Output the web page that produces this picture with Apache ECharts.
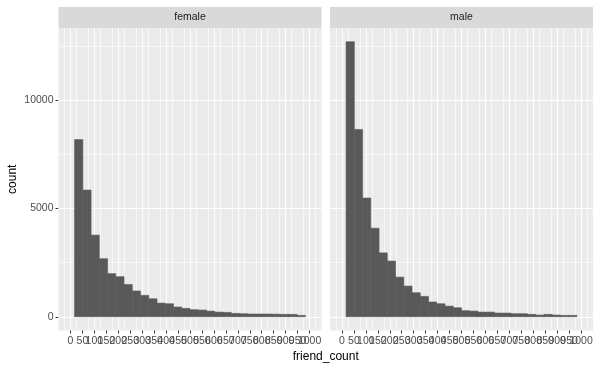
<!DOCTYPE html>
<html><head><meta charset="utf-8">
<script src="https://cdn.jsdelivr.net/npm/echarts@6/dist/echarts.min.js"></script>
<style>html,body{margin:0;padding:0;background:#fff}#c{width:600px;height:370px}</style>
</head><body><div id="c"></div>
<script>
const panels = ['female', 'male'];
const binWidth = 34.48;
const binCenters = [34.5, 69.0, 103.4, 137.9, 172.4, 206.9, 241.4, 275.9, 310.3, 344.8, 379.3, 413.8, 448.3, 482.8,
  517.2, 551.7, 586.2, 620.7, 655.2, 689.7, 724.1, 758.6, 793.1, 827.6, 862.1, 896.6, 931.0, 965.5];
const femaleCounts = [8180, 5850, 3770, 2680, 1990, 1850, 1490, 1190, 990, 830, 630, 600, 450, 385,
  325, 310, 260, 215, 200, 155, 140, 125, 125, 125, 120, 110, 108, 62];
const maleCounts = [12700, 8650, 5480, 4090, 2950, 2570, 1830, 1415, 1110, 940, 680, 600, 490, 415,
  280, 260, 215, 215, 170, 170, 140, 140, 110, 78, 110, 78, 62, 62];
const xTicks = [0, 50, 100, 150, 200, 250, 300, 350, 400, 450, 500, 550, 600, 650, 700, 750, 800, 850, 900, 950, 1000];
const yTicks = [0, 5000, 10000];
const yMinor = [2500, 7500, 12500];
const xLabel = 'friend_count';
const yLabel = 'count';

const FONT = 'Liberation Sans, Arial, sans-serif';
const seriesCounts = [femaleCounts, maleCounts];
const M = Math.max(...femaleCounts, ...maleCounts);
const yMin = -0.05 * M, yMax = 1.05 * M;
// tick labels overlap as in the reference; split them over two coincident axes
// so that ECharts does not drop the label next to the last one
const xTicksA = xTicks.filter((v, k) => k % 2 === 0);
const xTicksB = xTicks.filter((v, k) => k % 2 === 1);

const gridLeft = [58.5, 330];
const gridW = 263, gridTop = 28, gridBottom = 39.5;

function renderItem(params, api) {
  const p0 = api.coord([api.value(0), 0]);
  const p1 = api.coord([api.value(1), api.value(2)]);
  return {
    type: 'rect',
    shape: { x: p0[0], y: p1[1], width: p1[0] - p0[0], height: p0[1] - p1[1] },
    style: { fill: '#595959', stroke: '#595959', lineWidth: 0.6 }
  };
}

function xAxisDef(i, ticks, withGrid) {
  return {
    type: 'value', gridIndex: i, position: 'bottom', min: -50, max: 1050, interval: 50,
    axisLine: { show: false, onZero: false },
    axisTick: { show: true, length: 3, lineStyle: { color: '#333333', width: 1 }, customValues: ticks },
    axisLabel: { customValues: ticks, fontSize: 10.5, color: '#4D4D4D', margin: 5, fontFamily: FONT,
      showMinLabel: true, showMaxLabel: true, hideOverlap: false, formatter: v => String(v) },
    splitLine: { show: withGrid, lineStyle: { color: '#FFFFFF', width: 1.1 } },
    minorTick: { show: false, splitNumber: 2 },
    minorSplitLine: { show: withGrid, lineStyle: { color: '#FFFFFF', width: 0.6 } }
  };
}

const grids = [], xAxes = [], yAxes = [], series = [], graphics = [];
panels.forEach((name, i) => {
  grids.push({ left: gridLeft[i], width: gridW, top: gridTop, bottom: gridBottom,
    show: true, backgroundColor: '#EBEBEB', borderWidth: 0, containLabel: false, outerBoundsMode: 'none' });
  xAxes[i] = xAxisDef(i, xTicksA, true);
  xAxes[i + 2] = xAxisDef(i, xTicksB, false);
  yAxes.push({
    type: 'value', gridIndex: i, min: yMin, max: yMax,
    axisLine: { show: false, onZero: false },
    axisTick: { show: i === 0, length: 3, lineStyle: { color: '#333333', width: 1 }, customValues: yTicks },
    axisLabel: { show: i === 0, customValues: yTicks, fontSize: 10.5, color: '#4D4D4D', margin: 5, fontFamily: FONT,
      showMinLabel: true, showMaxLabel: true, formatter: v => String(v) },
    splitLine: { show: false }
  });
  series.push({
    type: 'custom', xAxisIndex: i, yAxisIndex: i, z: 3,
    renderItem: renderItem,
    encode: { x: [0, 1], y: 2 },
    data: binCenters.map((c, k) => [c - binWidth / 2, c + binWidth / 2, seriesCounts[i][k]]),
    markLine: {
      silent: true, symbol: ['none', 'none'], z: 1, animation: false,
      label: { show: false },
      lineStyle: { color: '#FFFFFF', type: 'solid', width: 1.1 },
      data: yTicks.map(v => ({ yAxis: v, lineStyle: { width: 1.1, color: '#FFFFFF', type: 'solid' } }))
        .concat(yMinor.map(v => ({ yAxis: v, lineStyle: { width: 0.6, color: '#FFFFFF', type: 'solid' } })))
    }
  });
  graphics.push({
    type: 'rect', left: gridLeft[i], top: 7, z: 10,
    shape: { width: gridW, height: 21 }, style: { fill: '#D9D9D9' }
  });
  graphics.push({
    type: 'text', x: gridLeft[i] + gridW / 2, y: 17.5, z: 11,
    style: { text: name, fill: '#1A1A1A', font: '10.5px ' + FONT, textAlign: 'center', textVerticalAlign: 'middle' }
  });
});
graphics.push({
  type: 'text', x: (gridLeft[0] + gridLeft[1] + gridW) / 2, y: 357,
  style: { text: xLabel, fill: '#000000', font: '12px ' + FONT, textAlign: 'center', textVerticalAlign: 'middle' }
});
graphics.push({
  type: 'text', x: 12.5, y: (gridTop + 370 - gridBottom) / 2, rotation: Math.PI / 2,
  style: { text: yLabel, fill: '#000000', font: '12px ' + FONT, textAlign: 'center', textVerticalAlign: 'middle' }
});

const chart = echarts.init(document.getElementById('c'), null, { renderer: 'canvas' });
chart.setOption({
  animation: false,
  backgroundColor: '#FFFFFF',
  grid: grids, xAxis: xAxes, yAxis: yAxes, series: series, graphic: graphics
});
</script></body></html>
